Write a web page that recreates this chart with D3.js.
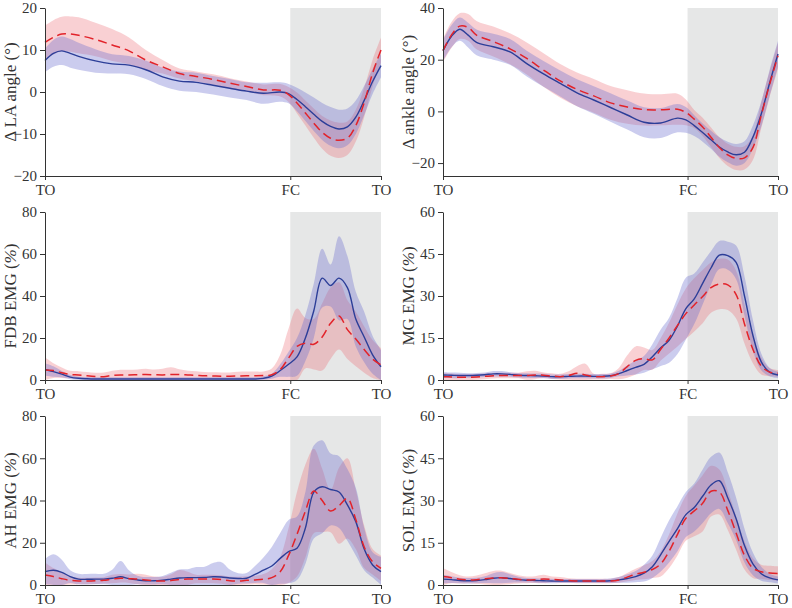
<!DOCTYPE html>
<html>
<head>
<meta charset="utf-8">
<script src="https://cdn.jsdelivr.net/npm/d3@7"></script>
<style>
  body { margin: 0; background: #fff; }
  svg { display: block; }
  text { font-family: "Liberation Serif", "Times New Roman", serif; fill: #333; }
</style>
</head>
<body>
<div id="plot-container"></div>
<script>
// gait cycle percent (TO = 0, FC = 73, TO = 100)
const anglePct = [0, 2.5, 5, 7.5, 10, 15, 20, 25, 30, 35, 40, 45, 50, 55, 60, 65, 70,
  72.5, 75, 77.5, 80, 82.5, 85, 87.5, 90, 92.5, 95, 97.5, 100];
const emgPct = d3.range(0, 100.01, 2.5);
const fcPct = 73;
const eventLabels = ["TO", "FC", "TO"];

// LA angle
const laBlue = [7.5, 9.2, 9.8, 9.2, 8.5, 7.4, 6.7, 6.4, 5.3, 3.6, 2.6, 2.3, 1.6, 0.9, 0.2, -0.3, 0.0,
  -0.4, -1.8, -3.5, -5.3, -7.0, -8.2, -8.8, -8.3, -6.0, -2.0, 2.5, 6.3];
const laBlueSd = [2.8, 3.2, 3.4, 3.4, 3.2, 2.8, 2.3, 2.2, 2.2, 2.2, 2.3, 2.3, 2.2, 2.2, 2.1, 2.5, 2.3,
  2.3, 2.8, 3.4, 4.0, 4.4, 4.6, 4.6, 4.4, 4.0, 3.5, 3.0, 2.8];
const laRed = [11.8, 13.0, 13.8, 13.8, 13.5, 12.5, 11.2, 9.8, 7.6, 6.0, 4.4, 3.7, 3.0, 2.1, 1.3, 0.5, 0.4,
  -0.6, -2.6, -5.0, -7.4, -9.6, -11.0, -11.5, -11.0, -8.0, -2.5, 4.5, 10.0];
const laRedSd = [4.0, 4.1, 4.1, 4.2, 4.3, 4.0, 3.8, 3.2, 2.4, 1.6, 1.2, 1.2, 1.2, 1.2, 1.2, 1.3, 1.5,
  1.8, 2.5, 3.0, 3.5, 3.9, 4.2, 4.2, 4.0, 3.8, 3.5, 3.2, 3.0];

// ankle angle
const ankleBlue = [23.5, 29.0, 31.8, 29.5, 26.7, 25.0, 23.0, 18.5, 14.5, 10.8, 7.2, 4.4, 1.5, -1.4, -4.2, -4.5, -2.6,
  -3.3, -5.5, -8.2, -11.0, -13.8, -15.7, -16.8, -15.8, -10.0, -1.0, 11.0, 22.2];
const ankleBlueSd = [4.0, 4.3, 4.5, 4.8, 5.0, 5.0, 5.0, 5.0, 5.0, 5.0, 5.2, 5.3, 5.5, 5.6, 5.8, 5.8, 5.5,
  5.0, 4.0, 3.5, 3.5, 3.8, 4.0, 4.2, 4.2, 4.5, 4.8, 5.0, 5.0];
const ankleRed = [23.5, 29.5, 33.0, 32.5, 29.5, 27.0, 24.2, 20.5, 16.0, 11.8, 8.5, 6.0, 3.3, 1.7, 0.7, 0.6, 0.8,
  -0.4, -3.0, -6.0, -10.0, -14.0, -16.8, -18.2, -18.0, -14.0, -1.5, 10.5, 21.5];
const ankleRedSd = [4.5, 5.0, 5.0, 5.2, 5.5, 5.8, 6.0, 6.2, 6.5, 6.5, 6.5, 6.5, 6.5, 6.5, 6.2, 6.0, 6.0,
  5.0, 3.5, 3.5, 3.8, 4.0, 4.3, 4.5, 4.5, 4.8, 5.0, 5.0, 5.0];

// FDB EMG
const fdbBlue = [5.0, 4.0, 2.8, 1.4, 0.8, 0.6, 0.5, 0.5, 0.5, 0.5, 0.5, 0.5, 0.5, 0.5, 0.5, 0.5, 0.5, 0.5, 0.5, 0.5,
  0.5, 0.5, 0.5, 0.5, 0.5, 0.5, 0.8, 1.8, 4.5, 7.5, 11.0, 20.0, 33.0, 48.5, 45.0, 48.5, 44.0, 29.0, 20.5, 12.0, 6.3];
const fdbBlueSd = [3.0, 2.5, 1.5, 1.0, 0.8, 0.8, 0.8, 0.8, 0.8, 0.8, 0.8, 0.8, 0.8, 0.8, 0.8, 0.8, 0.8, 0.8, 0.8, 0.8,
  0.8, 0.8, 0.8, 0.8, 0.8, 0.8, 1.0, 1.2, 3.0, 6.0, 9.0, 11.0, 13.0, 14.0, 10.0, 20.0, 15.0, 13.0, 12.0, 9.0, 8.0];
const fdbRed = [4.8, 4.5, 3.5, 2.6, 2.4, 2.0, 1.7, 1.6, 2.2, 2.4, 2.4, 2.5, 2.6, 2.5, 2.4, 2.6, 2.6, 2.4, 2.2, 2.0,
  1.9, 1.8, 1.8, 1.9, 2.0, 2.0, 2.1, 2.5, 5.0, 10.5, 16.0, 17.5, 17.0, 20.5, 27.0, 30.5, 24.0, 19.5, 14.5, 10.0, 7.1];
const fdbRedSd = [6.0, 3.5, 2.5, 1.8, 1.8, 1.8, 1.8, 2.0, 2.2, 2.5, 2.5, 2.5, 2.8, 2.5, 3.0, 3.5, 2.5, 2.0, 2.0, 1.8,
  1.8, 1.8, 1.8, 2.0, 2.0, 2.0, 2.0, 3.0, 7.0, 14.0, 18.0, 12.0, 12.0, 16.0, 17.0, 16.0, 14.0, 13.0, 11.0, 9.0, 8.0];

// MG EMG
const mgBlue = [1.8, 1.7, 1.6, 1.6, 1.7, 1.9, 2.2, 2.2, 2.0, 1.7, 1.6, 1.5, 1.4, 1.2, 1.2, 1.3, 1.4, 1.4, 1.3, 1.3,
  1.5, 2.3, 3.4, 4.5, 5.6, 8.3, 11.5, 14.2, 19.3, 25.5, 29.0, 34.5, 40.0, 44.6, 44.4, 42.0, 30.0, 16.0, 6.5, 2.8, 1.8];
const mgBlueSd = [1.0, 1.0, 1.0, 0.8, 0.8, 0.8, 1.0, 1.0, 0.8, 0.8, 0.8, 0.8, 0.8, 0.8, 0.8, 0.8, 0.8, 0.8, 0.8, 0.8,
  0.8, 1.0, 1.8, 2.5, 3.0, 4.5, 6.5, 8.0, 10.0, 11.0, 9.0, 7.5, 6.0, 5.0, 5.0, 6.0, 7.0, 5.5, 3.0, 1.5, 1.2];
const mgRed = [1.2, 1.1, 1.0, 1.0, 1.1, 1.3, 1.5, 1.6, 1.6, 1.6, 1.6, 1.8, 1.7, 1.4, 1.2, 1.6, 2.4, 1.8, 1.2, 1.2,
  1.4, 2.3, 4.8, 7.0, 7.6, 7.2, 11.0, 15.0, 19.5, 23.7, 26.8, 29.8, 33.0, 34.3, 34.0, 30.5, 20.0, 11.0, 5.0, 2.8, 2.4];
const mgRedSd = [1.2, 1.2, 1.0, 1.0, 1.0, 1.0, 1.0, 1.0, 1.0, 1.0, 1.5, 1.5, 1.0, 1.0, 1.0, 1.5, 2.5, 4.0, 1.0, 1.0,
  1.0, 2.0, 4.0, 5.0, 4.0, 3.5, 4.0, 5.5, 7.5, 9.0, 9.5, 9.5, 9.0, 9.0, 9.0, 8.5, 7.0, 5.0, 3.0, 1.5, 1.2];

// AH EMG
const ahBlue = [6.3, 7.0, 6.0, 4.0, 2.8, 2.7, 2.8, 2.8, 3.2, 3.9, 3.0, 2.4, 2.0, 2.0, 2.3, 2.8, 3.3, 3.5, 3.5, 3.6,
  3.9, 3.8, 3.3, 3.1, 3.2, 5.0, 7.0, 9.0, 12.6, 15.8, 17.4, 27.0, 44.0, 46.5, 45.2, 44.0, 37.9, 30.0, 17.0, 9.5, 6.3];
const ahBlueSd = [6.0, 7.5, 6.0, 3.0, 2.5, 2.5, 2.5, 2.5, 4.0, 7.5, 4.0, 2.0, 1.8, 1.8, 2.0, 3.0, 4.0, 4.0, 5.0, 5.0,
  6.5, 7.0, 4.0, 2.5, 2.5, 4.0, 6.0, 9.0, 12.0, 15.0, 15.0, 17.0, 22.0, 22.0, 17.0, 17.0, 17.0, 16.0, 10.0, 6.0, 7.0];
const ahRed = [4.7, 4.0, 3.0, 2.2, 1.9, 1.9, 2.0, 2.2, 2.8, 3.2, 3.0, 2.8, 2.4, 2.0, 1.9, 2.1, 2.6, 2.8, 2.8, 2.8,
  2.8, 2.6, 2.0, 1.9, 2.2, 2.4, 2.7, 3.5, 6.3, 14.0, 24.0, 35.0, 44.5, 40.0, 35.0, 37.5, 41.0, 31.0, 18.0, 11.0, 7.9];
const ahRedSd = [6.0, 4.0, 3.0, 2.0, 1.5, 1.5, 1.5, 1.5, 2.0, 2.0, 2.0, 2.5, 2.5, 2.0, 2.0, 3.0, 4.5, 3.5, 2.0, 2.0,
  2.0, 2.0, 2.0, 2.0, 2.0, 2.0, 2.5, 4.0, 7.0, 13.0, 20.0, 22.0, 20.0, 15.0, 10.0, 18.0, 19.0, 14.0, 10.0, 6.0, 6.0];

// SOL EMG
const solBlue = [2.1, 1.9, 1.6, 1.5, 1.6, 1.9, 2.4, 2.6, 2.3, 1.9, 1.7, 1.6, 1.5, 1.4, 1.4, 1.4, 1.4, 1.4, 1.4, 1.4,
  1.5, 1.8, 2.3, 3.0, 4.2, 6.5, 10.8, 15.5, 20.0, 25.0, 27.5, 31.5, 35.5, 37.0, 31.0, 23.5, 14.0, 7.5, 4.0, 2.5, 1.8];
const solBlueSd = [1.5, 1.2, 1.0, 1.0, 1.0, 1.2, 1.8, 2.0, 1.5, 1.0, 0.8, 0.8, 0.8, 0.8, 0.7, 0.7, 0.7, 0.7, 0.7, 0.7,
  0.8, 1.0, 1.5, 2.0, 3.0, 4.0, 6.0, 7.5, 8.0, 8.0, 8.5, 9.5, 10.0, 10.0, 9.0, 7.5, 6.0, 4.0, 2.5, 1.5, 1.2];
const solRed = [3.0, 2.6, 2.0, 1.8, 1.9, 2.2, 2.5, 2.6, 2.3, 2.0, 1.8, 1.9, 2.1, 2.0, 1.8, 1.6, 1.4, 1.4, 1.4, 1.4,
  1.4, 1.8, 2.8, 3.8, 4.5, 5.5, 7.5, 12.0, 18.0, 23.7, 26.3, 29.0, 33.3, 33.0, 26.5, 18.5, 10.5, 6.0, 4.7, 4.3, 4.1];
const solRedSd = [3.0, 2.0, 1.5, 1.2, 1.5, 2.0, 2.5, 2.5, 2.0, 1.5, 1.2, 1.2, 1.5, 1.0, 1.0, 0.8, 0.8, 0.8, 0.8, 0.8,
  0.8, 1.0, 1.5, 2.0, 2.5, 3.0, 4.5, 6.0, 7.5, 8.0, 9.0, 10.0, 9.0, 8.0, 7.0, 6.0, 5.0, 3.5, 2.5, 2.5, 2.5];

const panels = [
  {label: "Δ LA angle (°)", domain: [-20, 20], ticks: [-20, -10, 0, 10, 20], pct: anglePct,
   blue: laBlue, blueSd: laBlueSd, red: laRed, redSd: laRedSd, col: 0, row: 0},
  {label: "Δ ankle angle (°)", domain: [-25, 40], ticks: [-20, 0, 20, 40], pct: anglePct,
   blue: ankleBlue, blueSd: ankleBlueSd, red: ankleRed, redSd: ankleRedSd, col: 1, row: 0},
  {label: "FDB EMG", unit: true, domain: [0, 80], ticks: [0, 20, 40, 60, 80], pct: emgPct,
   blue: fdbBlue, blueSd: fdbBlueSd, red: fdbRed, redSd: fdbRedSd, col: 0, row: 1},
  {label: "MG EMG", unit: true, domain: [0, 60], ticks: [0, 15, 30, 45, 60], pct: emgPct,
   blue: mgBlue, blueSd: mgBlueSd, red: mgRed, redSd: mgRedSd, col: 1, row: 1},
  {label: "AH EMG", unit: true, domain: [0, 80], ticks: [0, 20, 40, 60, 80], pct: emgPct,
   blue: ahBlue, blueSd: ahBlueSd, red: ahRed, redSd: ahRedSd, col: 0, row: 2},
  {label: "SOL EMG", unit: true, domain: [0, 60], ticks: [0, 15, 30, 45, 60], pct: emgPct,
   blue: solBlue, blueSd: solBlueSd, red: solRed, redSd: solRedSd, col: 1, row: 2}
];

const colX = [[45, 381], [443, 778]];
const rowY = [[8, 176], [212, 380], [416, 585]];

const svg = d3.select("#plot-container")
  .append("svg")
    .attr("width", 792)
    .attr("height", 608);

panels.forEach(p => {
  const [x0, x1] = colX[p.col];
  const [y0, y1] = rowY[p.row];
  const x = d3.scaleLinear().domain([0, 100]).range([x0, x1]);
  const y = d3.scaleLinear().domain(p.domain).range([y1, y0]);
  const g = svg.append("g");
  const lo = p.domain[0], hi = p.domain[1];
  const clip = v => Math.max(lo, Math.min(hi, v));

  // swing phase shading
  g.append("rect")
    .attr("x", x(fcPct))
    .attr("y", y(hi))
    .attr("width", x(100) - x(fcPct))
    .attr("height", y(lo) - y(hi))
    .attr("fill", "#e6e7e7");

  const rows = p.pct.map((pc, i) => ({
    pc: pc, b: p.blue[i], bs: p.blueSd[i], r: p.red[i], rs: p.redSd[i]
  }));
  const curve = d3.curveCatmullRom.alpha(0.5);

  const redArea = d3.area().curve(curve)
    .x(d => x(d.pc)).y0(d => y(clip(d.r - d.rs))).y1(d => y(clip(d.r + d.rs)));
  const blueArea = d3.area().curve(curve)
    .x(d => x(d.pc)).y0(d => y(clip(d.b - d.bs))).y1(d => y(clip(d.b + d.bs)));

  g.append("path").datum(rows).attr("d", redArea)
    .attr("fill", "rgb(235,100,110)").attr("fill-opacity", 0.3);
  g.append("path").datum(rows).attr("d", blueArea)
    .attr("fill", "rgb(105,110,205)").attr("fill-opacity", 0.35);

  g.append("path").datum(rows)
    .attr("d", d3.line().curve(curve).x(d => x(d.pc)).y(d => y(d.b)))
    .attr("fill", "none").attr("stroke", "#2c3e98").attr("stroke-width", 1.4);
  g.append("path").datum(rows)
    .attr("d", d3.line().curve(curve).x(d => x(d.pc)).y(d => y(d.r)))
    .attr("fill", "none").attr("stroke", "#e2232a").attr("stroke-width", 1.5)
    .attr("stroke-dasharray", "9,5");

  // axes
  const yAxis = g.append("g")
    .attr("transform", `translate(${x0},0)`)
    .call(d3.axisLeft(y).tickValues(p.ticks).tickSize(5).tickPadding(3).tickSizeOuter(0));
  const xAxis = g.append("g")
    .attr("transform", `translate(0,${y1})`)
    .call(d3.axisBottom(x).tickValues([0, fcPct, 100])
      .tickFormat((d, i) => eventLabels[i]).tickSize(4).tickPadding(4).tickSizeOuter(0));
  [yAxis, xAxis].forEach(a => {
    a.selectAll("text").style("font-size", "15px").style("font-family", null).attr("fill", "#333");
    a.selectAll("line, path").attr("stroke", "#333");
  });

  const lab = g.append("text")
    .attr("transform", "rotate(-90)")
    .attr("x", -(y0 + y1) / 2)
    .attr("y", x0 - 35)
    .attr("dy", "0.35em")
    .attr("text-anchor", "middle")
    .style("font-size", "17px")
    .text(p.label);
  if (p.unit) {
    lab.append("tspan").text(" (");
    lab.append("tspan").style("font-style", "italic").text("%");
    lab.append("tspan").text(")");
  }
});
</script>
</body>
</html>
